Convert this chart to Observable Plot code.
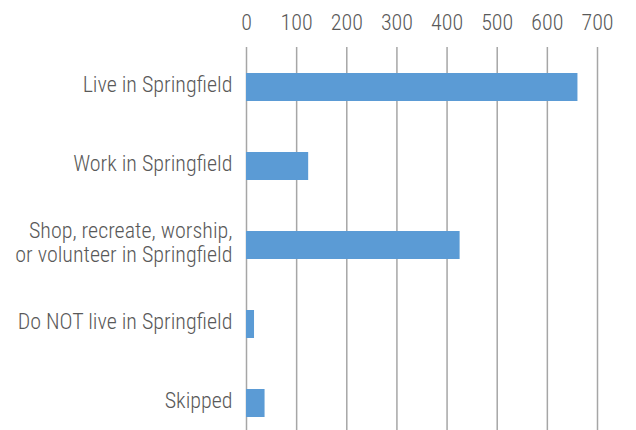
<!DOCTYPE html>
<html>
<head>
<meta charset="utf-8">
<script src="https://cdn.jsdelivr.net/npm/d3@7"></script>
<script src="https://cdn.jsdelivr.net/npm/@observablehq/plot@0.6"></script>
<style>
  html, body { margin: 0; padding: 0; background: #fff; }
</style>
</head>
<body>
<div id="chart"></div>
<script>
const categories = [
  "Live in Springfield",
  "Work in Springfield",
  "Shop, recreate, worship,\nor volunteer in Springfield",
  "Do NOT live in Springfield",
  "Skipped"
];
const values = [661, 124, 426, 16, 37];
const xTicks = [0, 100, 200, 300, 400, 500, 600, 700];

const data = categories.map((c, i) => ({category: c, value: values[i]}));
const FONT = "'Roboto Condensed', 'Liberation Sans Narrow', 'DejaVu Sans Condensed', 'Arial Narrow', sans-serif";

const chart = Plot.plot({
  width: 636,
  height: 430,
  marginTop: 47,
  marginLeft: 246,
  marginRight: 39,
  marginBottom: 0,
  style: {background: "#fff"},
  x: {domain: [0, 700]},
  y: {domain: categories, range: [47, 443], paddingInner: 0.646, paddingOuter: 0.323, align: 0.5},
  marks: [
    Plot.ruleX(xTicks, {stroke: "#a6a6a6", strokeWidth: 1.5}),
    Plot.barX(data, {x: "value", y: "category", fill: "#5b9bd5"}),
    Plot.axisX({anchor: "top", ticks: xTicks, tickSize: 0, tickPadding: 18, fontSize: 22, fontWeight: 300, fontFamily: FONT, fill: "#595959", label: null}),
    Plot.axisY({anchor: "left", tickSize: 0, tickPadding: 14, dy: -3, fontSize: 22, fontWeight: 300, fontFamily: FONT, fill: "#595959", label: null, lineHeight: 1.06})
  ]
});
document.getElementById("chart").appendChild(chart);
</script>
</body>
</html>
